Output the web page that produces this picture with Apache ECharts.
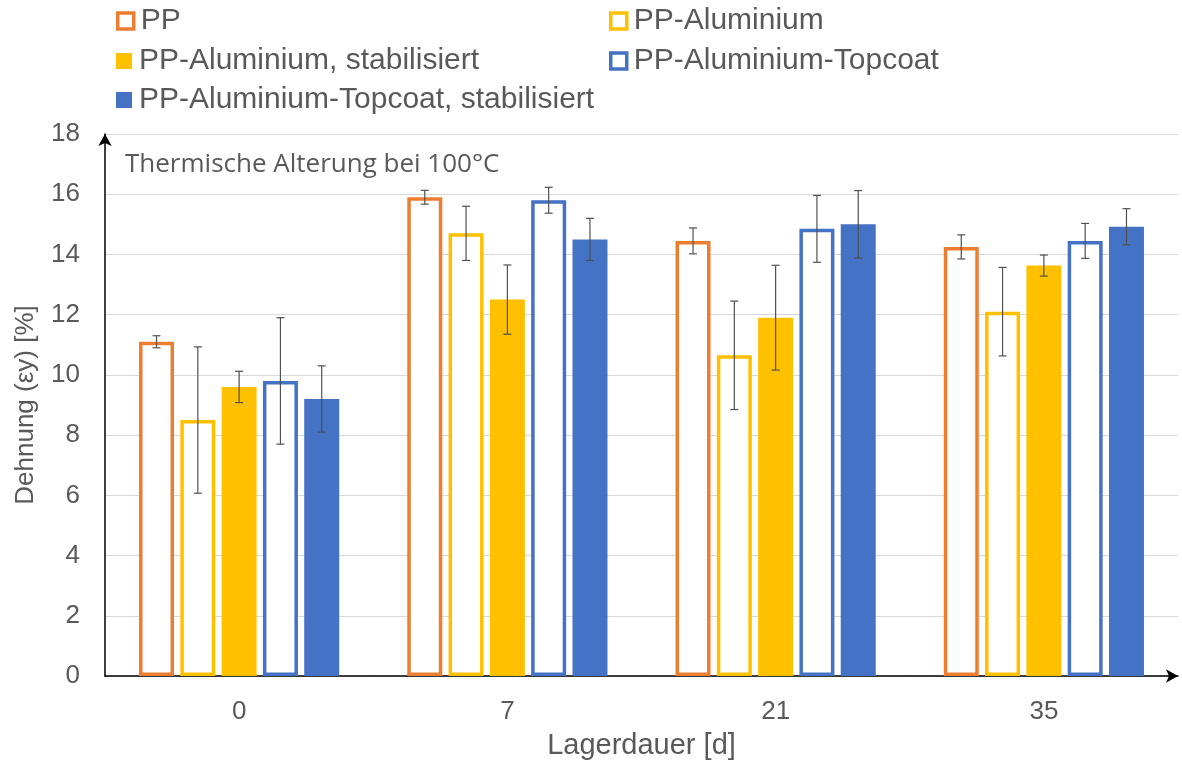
<!DOCTYPE html>
<html>
<head>
<meta charset="utf-8">
<script src="https://cdn.jsdelivr.net/npm/echarts@6/dist/echarts.min.js"></script>
<style>
html,body{margin:0;padding:0;background:#fff;}
#chart{width:1182px;height:766px;}
</style>
</head>
<body>
<div id="chart"></div>
<script>
// ---- data ----
const categories = ['0', '7', '21', '35'];
const seriesNames = ['PP', 'PP-Aluminium', 'PP-Aluminium, stabilisiert', 'PP-Aluminium-Topcoat', 'PP-Aluminium-Topcoat, stabilisiert'];
const ppVals        = [11.1, 15.9, 14.45, 14.25];
const ppErr         = [0.2, 0.23, 0.43, 0.4];
const ppAlVals      = [8.5, 14.7, 10.65, 12.1];
const ppAlErr       = [2.43, 0.9, 1.8, 1.47];
const ppAlStabVals  = [9.6, 12.5, 11.9, 13.63];
const ppAlStabErr   = [0.52, 1.15, 1.74, 0.35];
const ppAlTcVals    = [9.8, 15.8, 14.85, 14.45];
const ppAlTcErr     = [2.1, 0.43, 1.11, 0.58];
const ppAlTcStabVals = [9.2, 14.5, 15.0, 14.92];
const ppAlTcStabErr  = [1.1, 0.7, 1.12, 0.6];
const yTicks = {min: 0, max: 18, interval: 2};

// ---- style ----
const values = [ppVals, ppAlVals, ppAlStabVals, ppAlTcVals, ppAlTcStabVals];
const errs = [ppErr, ppAlErr, ppAlStabErr, ppAlTcErr, ppAlTcStabErr];
const colors = ['#ED7D31', '#FFC000', '#FFC000', '#4472C4', '#4472C4'];
const hollow = [true, true, false, true, false];
const BAR_W = 35;
const BAR_GAP = 0.18;
const STEP = BAR_W * (1 + BAR_GAP);
const txt = '#595959';

const series = [];
values.forEach((vals, i) => {
  series.push({
    name: seriesNames[i],
    type: 'bar',
    data: vals,
    barWidth: BAR_W,
    barGap: (BAR_GAP * 100) + '%',
    itemStyle: hollow[i]
      ? {color: '#ffffff', borderColor: colors[i], borderWidth: 3.5}
      : {color: colors[i]},
    emphasis: {disabled: true},
    z: 2
  });
});
values.forEach((vals, i) => {
  series.push({
    name: 'err' + i,
    type: 'custom',
    z: 5,
    data: vals.map((v, k) => [k, v - errs[i][k], v + errs[i][k]]),
    encode: {x: 0, y: [1, 2]},
    renderItem: function (params, api) {
      const x = api.value(0);
      const pHi = api.coord([x, api.value(2)]);
      const pLo = api.coord([x, api.value(1)]);
      const cx = pHi[0] + (i - 2) * STEP;
      const st = {stroke: '#505050', lineWidth: 1.2};
      const cap = 4;
      return {
        type: 'group',
        children: [
          {type: 'line', shape: {x1: cx, y1: pHi[1], x2: cx, y2: pLo[1]}, style: st},
          {type: 'line', shape: {x1: cx - cap, y1: pHi[1], x2: cx + cap, y2: pHi[1]}, style: st},
          {type: 'line', shape: {x1: cx - cap, y1: pLo[1], x2: cx + cap, y2: pLo[1]}, style: st}
        ]
      };
    }
  });
});

const legendPos = [
  {left: 116, top: 6},
  {left: 609, top: 6},
  {left: 116, top: 46},
  {left: 609, top: 46},
  {left: 116, top: 85}
];
const legends = seriesNames.map((n, i) => ({
  data: [{
    name: n,
    icon: 'rect',
    itemStyle: hollow[i]
      ? {color: '#ffffff', borderColor: colors[i], borderWidth: 3.5}
      : {color: colors[i], borderWidth: 0}
  }],
  left: legendPos[i].left,
  top: legendPos[i].top,
  itemWidth: 16,
  itemHeight: 16,
  itemGap: 6,
  padding: 0,
  selectedMode: false,
  textStyle: {fontFamily: 'Liberation Sans, Arial, sans-serif', fontSize: 30, color: txt, lineHeight: 30, padding: [0, 0, 0, 2]}
}));

const chart = echarts.init(document.getElementById('chart'), null, {renderer: 'canvas'});
chart.setOption({
  backgroundColor: '#ffffff',
  animation: false,
  legend: legends,
  grid: {left: 105, right: 4, top: 134, bottom: 90, containLabel: false},
  xAxis: {
    type: 'category',
    data: categories,
    name: 'Lagerdauer [d]',
    nameLocation: 'middle',
    nameGap: 55,
    nameTextStyle: {fontFamily: 'Liberation Sans, Arial, sans-serif', fontSize: 29, color: txt},
    axisLine: {show: true, lineStyle: {color: '#000', width: 1.5}, symbol: ['none', 'arrow'], symbolSize: [10, 12]},
    axisTick: {show: false},
    axisLabel: {fontFamily: 'Liberation Sans, Arial, sans-serif', fontSize: 26, color: txt, margin: 23},
    splitLine: {show: false}
  },
  yAxis: {
    type: 'value',
    min: yTicks.min,
    max: yTicks.max,
    interval: yTicks.interval,
    name: 'Dehnung (εy) [%]',
    nameLocation: 'middle',
    nameGap: 66,
    nameTextStyle: {fontFamily: 'Liberation Sans, Arial, sans-serif', fontSize: 26, color: txt},
    axisLine: {show: true, lineStyle: {color: '#000', width: 1.5}, symbol: ['none', 'arrow'], symbolSize: [10, 12]},
    axisTick: {show: false},
    axisLabel: {fontFamily: 'Liberation Sans, Arial, sans-serif', fontSize: 26, color: txt, margin: 25},
    splitLine: {show: true, lineStyle: {color: '#d9d9d9', width: 1}}
  },
  graphic: [{
    type: 'text',
    left: 125,
    top: 152,
    style: {text: 'Thermische Alterung bei 100°C', fontFamily: 'Open Sans, sans-serif', fontSize: 26, fill: '#595959'}
  }],
  series: series
});
</script>
</body>
</html>
